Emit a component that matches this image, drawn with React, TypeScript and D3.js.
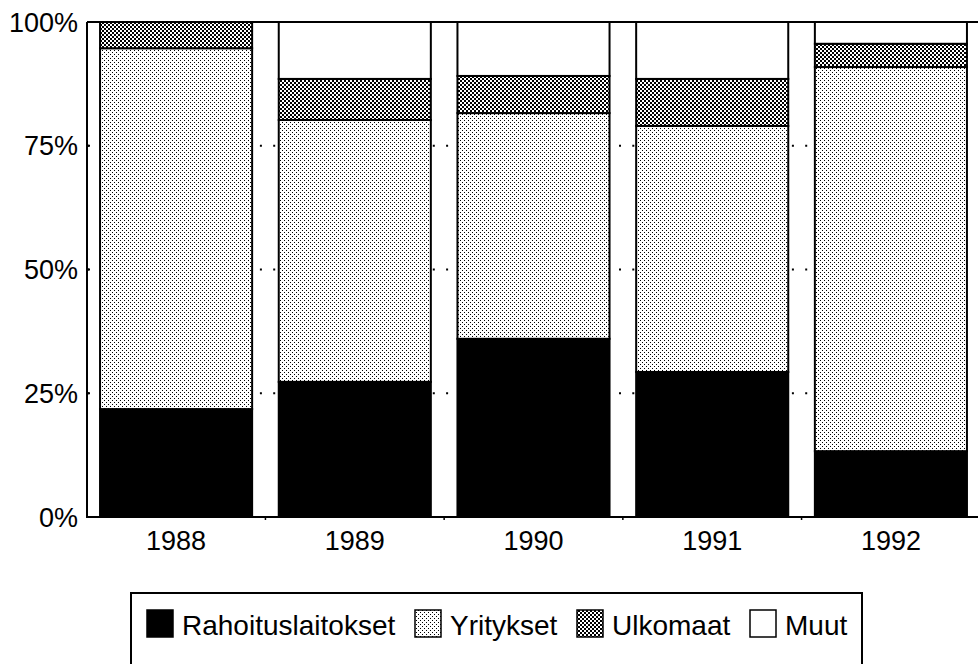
import React from 'react'
import * as d3 from 'd3'

// shares of financing by source, percent of the total per year
const years = ['1988', '1989', '1990', '1991', '1992']
const rahoituslaitokset = [21.8, 27.3, 36.0, 29.3, 13.3]
const yritykset = [72.9, 52.9, 45.6, 49.7, 77.6]
const ulkomaat = [5.3, 8.3, 7.5, 9.5, 4.7]
const muut = [0, 11.5, 10.9, 11.5, 4.4]

const seriesNames = ['Rahoituslaitokset', 'Yritykset', 'Ulkomaat', 'Muut']
const yTicks = [0, 25, 50, 75, 100]
const gridTicks = [25, 50, 75]

const W = 978
const H = 664
const margin = { top: 22, left: 87, bottom: 147 }
const plotRight = 980
const font = "'Liberation Sans', Arial, Helvetica, sans-serif"

const fills = ['#000', 'url(#dots)', 'url(#checks)', '#fff']
// legend swatch positions, label sits right after its swatch
const legendX = [147, 415, 577, 750]

const App = () => {
  const rows = years.map((year, i) => ({
    year,
    Rahoituslaitokset: rahoituslaitokset[i],
    Yritykset: yritykset[i],
    Ulkomaat: ulkomaat[i],
    Muut: muut[i],
  }))
  const stacked = d3.stack<any>().keys(seriesNames)(rows)

  const x = d3.scaleBand()
    .domain(years)
    .range([margin.left, plotRight])
    .paddingInner(0.149)
    .paddingOuter(0.073)

  const y = d3.scaleLinear()
    .domain([0, 100])
    .range([H - margin.bottom, margin.top])

  const step = x.step()
  const gapTicks = years.slice(1).map(yr => (x(yr) as number) - (step - x.bandwidth()) / 2)

  return (
    <svg width={W} height={H} style={{ position: 'absolute', left: 0, top: 0, background: '#fff' }}>
      <defs>
        <pattern id="dots" width="4" height="4" patternUnits="userSpaceOnUse">
          <rect width="4" height="4" fill="#fff" />
          <rect x="0" y="0" width="1" height="1" fill="#000" />
          <rect x="2" y="2" width="1" height="1" fill="#000" />
        </pattern>
        <pattern id="checks" width="4" height="4" patternUnits="userSpaceOnUse">
          <rect width="4" height="4" fill="#fff" />
          <rect x="0" y="0" width="2" height="2" fill="#000" />
          <rect x="2" y="2" width="2" height="2" fill="#000" />
        </pattern>
      </defs>

      {/* dotted gridlines, only seen between the bars */}
      {gridTicks.map(t => (
        <line key={t} x1={margin.left} x2={plotRight} y1={y(t)} y2={y(t)}
          stroke="#000" strokeWidth={2} strokeDasharray="2 11.3" />
      ))}

      {stacked.map((s, si) => (
        <g key={s.key} fill={fills[si]} stroke="#000" strokeWidth={2}>
          {s.map((d, i) => (
            <rect key={years[i]}
              x={x(years[i])}
              y={y(d[1])}
              width={x.bandwidth()}
              height={y(d[0]) - y(d[1])} />
          ))}
        </g>
      ))}

      {/* frame */}
      <line x1={margin.left} x2={margin.left} y1={y(100)} y2={y(0) + 1} stroke="#000" strokeWidth={2} />
      <line x1={margin.left} x2={plotRight} y1={y(100)} y2={y(100)} stroke="#000" strokeWidth={2} />
      <line x1={margin.left} x2={plotRight} y1={y(0)} y2={y(0)} stroke="#000" strokeWidth={2} />
      <line x1={plotRight} x2={plotRight} y1={y(100)} y2={y(0)} stroke="#000" strokeWidth={2} />

      {yTicks.map(t => (
        <g key={t}>
          <line x1={margin.left} x2={margin.left + 3} y1={y(t)} y2={y(t)} stroke="#000" strokeWidth={2} />
          <text x={78} y={y(t)} dy="0.36em" textAnchor="end"
            fontFamily={font} fontSize={27}>{`${t}%`}</text>
        </g>
      ))}

      {gapTicks.map(gx => (
        <line key={gx} x1={gx} x2={gx} y1={y(0)} y2={y(0) + 3} stroke="#000" strokeWidth={1.5} />
      ))}

      {years.map(yr => (
        <text key={yr} x={(x(yr) as number) + x.bandwidth() / 2} y={550} textAnchor="middle"
          fontFamily={font} fontSize={27}>{yr}</text>
      ))}

      {/* legend */}
      <rect x={131} y={593} width={731} height={90} fill="none" stroke="#000" strokeWidth={2} />
      {seriesNames.map((name, i) => (
        <g key={name}>
          <rect x={legendX[i]} y={610} width={26} height={27} fill={fills[i]}
            stroke="#000" strokeWidth={1.5} />
          <text x={legendX[i] + 35} y={635} fontFamily={font} fontSize={28}>{name}</text>
        </g>
      ))}
    </svg>
  )
}

export default App
